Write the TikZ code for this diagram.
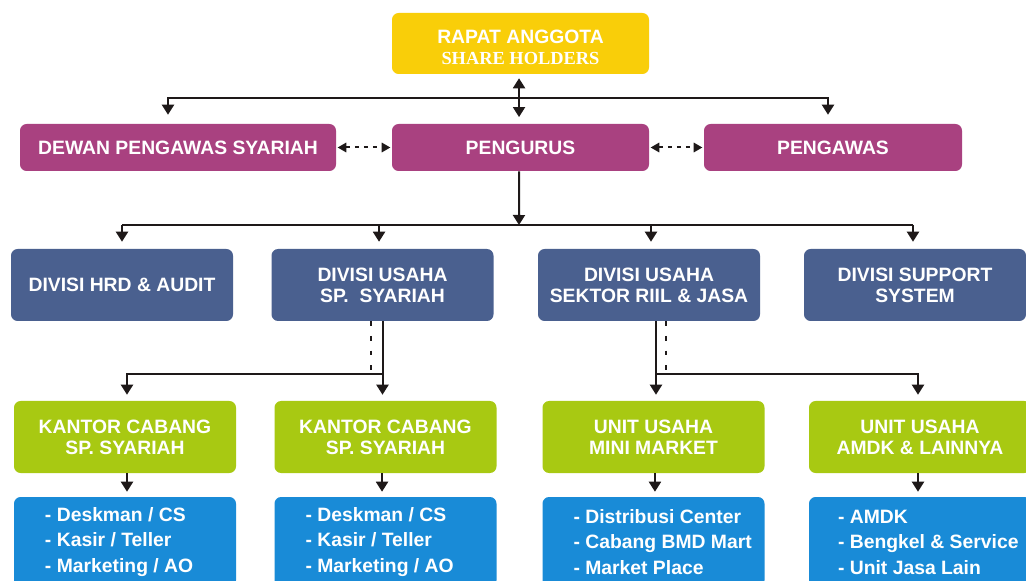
\documentclass[tikz,border=0pt]{standalone}
\usepackage{fontspec}
\setmainfont{Liberation Sans}
\newfontfamily\serifbold{Liberation Serif}
\usetikzlibrary{arrows.meta,calc}
\definecolor{cyel}{RGB}{249,206,9}
\definecolor{cmag}{RGB}{169,65,128}
\definecolor{cslate}{RGB}{74,96,143}
\definecolor{cgreen}{RGB}{168,201,18}
\definecolor{cblue}{RGB}{25,139,215}
\definecolor{cline}{RGB}{30,25,25}
\begin{document}
\begin{tikzpicture}[x=0.75pt,y=-0.75pt,
  font=\bfseries\fontsize{14.5}{15.8}\selectfont,
  box/.style={rounded corners=5pt, inner sep=0pt, text=white, align=center},
  topbox/.style={box, fill=cyel, minimum width=192.75pt, minimum height=45.75pt},
  magbox/.style={box, fill=cmag, minimum height=35.25pt},
  divbox/.style={box, fill=cslate, minimum width=166.5pt, minimum height=54pt},
  unitbox/.style={box, fill=cgreen, minimum width=166.5pt, minimum height=54pt},
  listbox/.style={box, fill=cblue, minimum width=166.5pt, minimum height=67.5pt},
  listtext/.style={text=white, align=left, anchor=west, inner sep=0pt, font=\bfseries\fontsize{14.5}{19.1}\selectfont},
  ln/.style={draw=cline, line width=1.5pt},
  tipa/.tip={Triangle[width=9pt,length=7.5pt]},
  tipb/.tip={Triangle[width=7pt,length=6.5pt]},
  arr/.style={ln, -tipa},
  arrtwo/.style={ln, tipa-tipa},
  darr/.style={ln, dash pattern=on 3pt off 3.75pt, tipb-tipb},
  dotl/.style={ln, dash pattern=on 3.5pt off 7.5pt},
]
\clip (0,0) rectangle (1026,581);
\fill[white] (0,0) rectangle (1026,581);

% level 1
\node[topbox] (top) at (520.5,43.5) {};
\node[text=white, align=center, inner sep=0pt] (toptext) at ([yshift=-2.6pt]top.center) {RAPAT ANGGOTA\\{\serifbold\bfseries\fontsize{13.8}{15}\selectfont SHARE HOLDERS}};

% level 2
\node[magbox, minimum width=237pt] (dewan) at (178,147.5) {DEWAN PENGAWAS SYARIAH};
\node[magbox, minimum width=192.75pt] (pengurus) at (520.5,147.5) {PENGURUS};
\node[magbox, minimum width=193.5pt] (pengawas) at (833,147.5) {PENGAWAS};

% level 3
\node[divbox] (hrd) at (122,285) {DIVISI HRD \& AUDIT};
\node[divbox] (usp) at (382.5,285) {DIVISI USAHA\\SP.\ \ SYARIAH};
\node[divbox] (riil) at (649,285) {DIVISI USAHA\\SEKTOR RIIL \& JASA};
\node[divbox] (sup) at (915,285) {DIVISI SUPPORT\\SYSTEM};

% level 4
\node[unitbox] (kc1) at (125,437) {KANTOR CABANG\\SP. SYARIAH};
\node[unitbox] (kc2) at (385.5,437) {KANTOR CABANG\\SP. SYARIAH};
\node[unitbox] (mm) at (653.5,437) {UNIT USAHA\\MINI MARKET};
\node[unitbox] (amdk) at (920,437) {UNIT USAHA\\AMDK \& LAINNYA};

% level 5
\node[listbox] (l1) at (125,542) {};
\node[listbox] (l2) at (385.5,542) {};
\node[listbox] (l3) at (653.5,542) {};
\node[listbox] (l4) at (920,542) {};
\node[listtext] (t1) at ([xshift=23.25pt]l1.west) {- Deskman / CS\\- Kasir / Teller\\- Marketing / AO};
\node[listtext] (t2) at ([xshift=23.25pt]l2.west) {- Deskman / CS\\- Kasir / Teller\\- Marketing / AO};
\node[listtext] (t3) at ([xshift=23.25pt]l3.west) {- Distribusi Center\\- Cabang BMD Mart\\- Market Place};
\node[listtext] (t4) at ([xshift=21.75pt]l4.west) {- AMDK\\- Bengkel \& Service\\- Unit Jasa Lain};

% connectors level 1-2
\coordinate (j1) at (519,98);
\draw[ln] ([xshift=-7.5pt]dewan.north |- j1) -- ([xshift=-3.75pt]pengawas.north |- j1);
\draw[arr, shorten >=6.75pt] (j1) -| ([xshift=-7.5pt]dewan.north);
\draw[arr, shorten >=6.75pt] (j1) -| ([xshift=-3.75pt]pengawas.north);
\draw[arrtwo, shorten <=3pt, shorten >=5pt] ([xshift=-1.1pt]top.south) -- ([xshift=-1.1pt]pengurus.north);
\draw[darr, shorten <=1pt, shorten >=1pt] (dewan.east) -- (pengurus.west);
\draw[darr, shorten <=1pt, shorten >=1pt] (pengurus.east) -- (pengawas.west);

% connectors level 2-3
\coordinate (j2) at (519,225);
\draw[arr] ([xshift=-1.1pt]pengurus.south) -- (j2);
\draw[ln] (hrd.north |- j2) -- ([xshift=-1.5pt]sup.north |- j2);
\draw[arr, shorten >=5.25pt] (hrd.north |- j2) -- (hrd.north);
\draw[arr, shorten >=5.25pt] ([xshift=-2.6pt]usp.north |- j2) -- ([xshift=-2.6pt]usp.north);
\draw[arr, shorten >=5.25pt] ([xshift=1.5pt]riil.north |- j2) -- ([xshift=1.5pt]riil.north);
\draw[arr, shorten >=5.25pt] ([xshift=-1.5pt]sup.north |- j2) -- ([xshift=-1.5pt]sup.north);

% connectors level 3-4
\coordinate (u1) at (382,374);
\draw[arr, shorten >=4.5pt] (usp.south) -- (usp.south |- kc2.north);
\draw[arr, shorten >=4.5pt] (u1) -| ([xshift=1.5pt]kc1.north);
\draw[dotl] ([xshift=-8.6pt]usp.south) -- ([xshift=-8.6pt]usp.south |- u1);

\coordinate (u2) at (656,374);
\draw[arr, shorten >=4.5pt] ([xshift=5.25pt]riil.south) -- ([xshift=5.25pt]riil.south |- mm.north);
\draw[arr, shorten >=4.5pt] (u2) -| ([xshift=-1.5pt]amdk.north);
\draw[dotl] ([xshift=12.75pt]riil.south) -- ([xshift=12.75pt]riil.south |- u2);

% connectors level 4-5
\draw[arr, shorten >=3.75pt] ([xshift=1.5pt]kc1.south) -- ([xshift=1.5pt]l1.north);
\draw[arr, shorten >=3.75pt] ([xshift=-2.6pt]kc2.south) -- ([xshift=-2.6pt]l2.north);
\draw[arr, shorten >=3.75pt] ([xshift=1.1pt]mm.south) -- ([xshift=1.1pt]l3.north);
\draw[arr, shorten >=3.75pt] ([xshift=-1.5pt]amdk.south) -- ([xshift=-1.5pt]l4.north);
\end{tikzpicture}
\end{document}
